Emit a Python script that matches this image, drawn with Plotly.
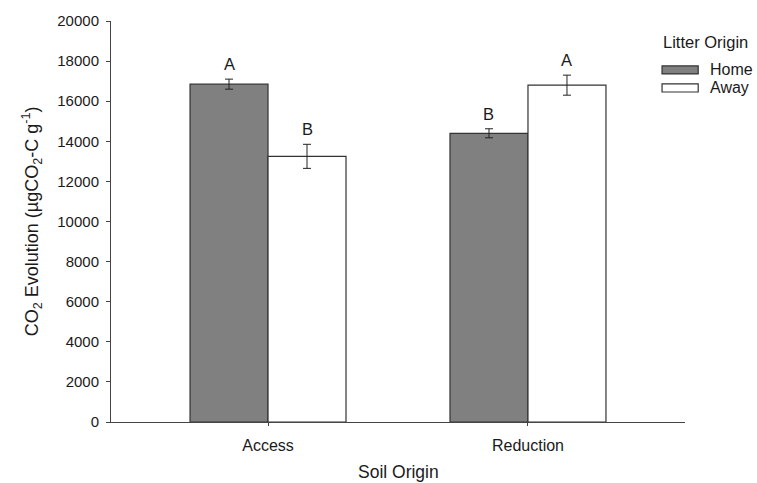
import plotly.graph_objects as go

# Soil origin groups and litter treatments
soil_origin = ["Access", "Reduction"]
home_mean = [16850, 14400]
home_se = [250, 225]
away_mean = [13250, 16800]
away_se = [600, 500]
home_letters = ["A", "B"]
away_letters = ["B", "A"]

x_pos = list(range(len(soil_origin)))
font_family = "Arial, Liberation Sans, sans-serif"
line_col = "#333333"
text_col = "#1a1a1a"

fig = go.Figure()
fig.add_trace(go.Bar(
    x=x_pos, y=home_mean, name="Home",
    marker=dict(color="#808080", line=dict(color=line_col, width=1.2)),
    error_y=dict(type="data", array=home_se, color="#222222", thickness=1, width=4),
    showlegend=False,
))
fig.add_trace(go.Bar(
    x=x_pos, y=away_mean, name="Away",
    marker=dict(color="#ffffff", line=dict(color=line_col, width=1.2)),
    error_y=dict(type="data", array=away_se, color="#222222", thickness=1, width=4),
    showlegend=False,
))

# significance letters above each error bar
for i in x_pos:
    for off, mean, se, lab in ((-0.15, home_mean, home_se, home_letters),
                               (0.15, away_mean, away_se, away_letters)):
        fig.add_annotation(x=i + off, y=mean[i] + se[i], text=lab[i],
                           showarrow=False, yanchor="bottom", yshift=4,
                           font=dict(size=16.5, color=text_col, family=font_family))

# legend drawn as wide swatches
fig.add_annotation(x=0.958, y=0.948, xref="paper", yref="paper", text="Litter Origin",
                   showarrow=False, xanchor="left", yanchor="middle",
                   font=dict(size=16.5, color=text_col, family=font_family))
for (y0, y1, fill, lab, yc) in ((0.868, 0.888, "#808080", "Home", 0.878),
                                (0.823, 0.843, "#ffffff", "Away", 0.833)):
    fig.add_shape(type="rect", xref="paper", yref="paper", x0=0.960, x1=1.023,
                  y0=y0, y1=y1, fillcolor=fill, line=dict(color=line_col, width=1.2))
    fig.add_annotation(x=1.040, y=yc, xref="paper", yref="paper", text=lab,
                       showarrow=False, xanchor="left", yanchor="middle",
                       font=dict(size=16, color=text_col, family=font_family))

# axis titles placed in the margins
fig.add_annotation(x=0.5, y=-0.124, xref="paper", yref="paper", text="Soil Origin",
                   showarrow=False, xanchor="center", yanchor="middle",
                   font=dict(size=17.5, color=text_col, family=font_family))
fig.add_annotation(x=-0.138, y=0.5, xref="paper", yref="paper",
                   text="CO<sub>2</sub> Evolution (µgCO<sub>2</sub>-C g<sup>-1</sup>)",
                   textangle=-90, showarrow=False, xanchor="center", yanchor="middle",
                   font=dict(size=18, color=text_col, family=font_family))

fig.update_layout(
    width=757, height=483,
    margin=dict(l=111, r=72, t=21, b=61, autoexpand=False),
    paper_bgcolor="white", plot_bgcolor="white",
    barmode="group", bargap=0.4, bargroupgap=0,
    font=dict(family=font_family, size=15, color=text_col),
    xaxis=dict(
        range=[-0.604, 1.604], tickvals=x_pos, ticktext=soil_origin,
        showline=True, linecolor="#444444", linewidth=1,
        ticks="outside", ticklen=3, tickcolor="#444444",
        showgrid=False, zeroline=False, ticklabelstandoff=6,
        automargin=False, tickfont=dict(size=16),
    ),
    yaxis=dict(
        range=[0, 20000], dtick=2000, tickformat="d",
        showline=True, linecolor="#444444", linewidth=1,
        ticks="outside", ticklen=4, tickcolor="#444444",
        showgrid=False, zeroline=False, ticklabelstandoff=4,
        automargin=False, tickfont=dict(size=15),
    ),
)

fig.write_html("out.html")
